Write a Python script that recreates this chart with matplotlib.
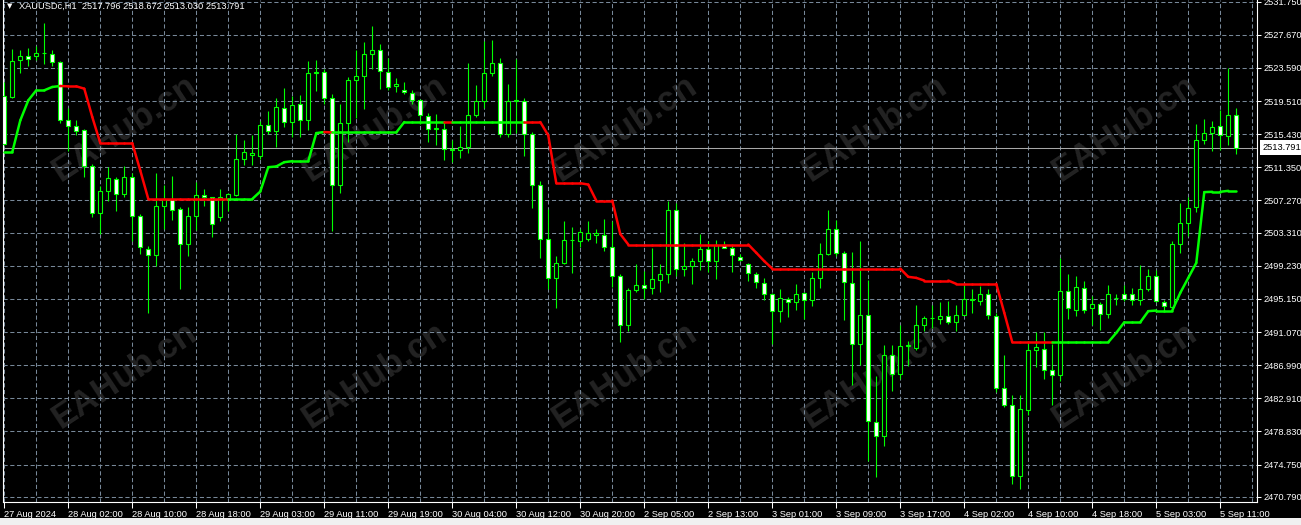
import numpy as np
import matplotlib.pyplot as plt
from matplotlib.collections import LineCollection
from matplotlib.patches import Rectangle

W, H = 1301, 525
SYMBOL = "XAUUSDc,H1"

# --- H1 candles, 27 Aug 18:00 .. 5 Sep 13:00 ---
opens = [2520.10, 2520.01, 2524.54, 2525.12, 2525.04, 2525.41, 2525.28, 2524.38, 2517.13, 2516.40,
         2515.90, 2511.54, 2505.70, 2508.41, 2509.89, 2508.08, 2510.22, 2505.36, 2501.33, 2500.51,
         2506.60, 2507.42, 2506.23, 2501.91, 2505.36, 2507.96, 2507.67, 2505.20, 2507.46, 2508.00,
         2512.40, 2512.90, 2512.73, 2516.60, 2515.82, 2518.66, 2516.97, 2519.15, 2517.21, 2523.02,
         2523.10, 2519.93, 2509.23, 2516.85, 2522.16, 2522.57, 2525.37, 2525.86, 2523.10, 2521.33,
         2520.92, 2520.55, 2519.69, 2517.67, 2516.10, 2516.10, 2513.47, 2513.43, 2513.84, 2517.83,
         2519.48, 2523.02, 2524.25, 2515.41, 2519.56, 2519.52, 2515.49, 2509.23, 2502.53, 2497.71,
         2499.52, 2502.40, 2502.24, 2502.48, 2503.06, 2503.02, 2501.50, 2497.92, 2491.94, 2496.20,
         2496.81, 2496.44, 2497.43, 2498.16, 2506.15, 2498.78, 2499.15, 2499.80, 2501.24, 2499.88,
         2501.73, 2501.44, 2500.37, 2499.47, 2498.24, 2497.14, 2495.70, 2493.62, 2495.17, 2494.76,
         2495.91, 2494.97, 2497.75, 2500.74, 2503.80, 2500.82, 2497.13, 2489.65, 2493.23, 2479.96,
         2478.24, 2488.30, 2485.92, 2489.41, 2489.12, 2491.91, 2492.82, 2492.73, 2493.10, 2492.28,
         2493.23, 2495.00, 2494.95, 2495.81, 2493.10, 2484.19, 2482.14, 2473.31, 2481.52, 2488.91,
         2489.04, 2486.45, 2485.75, 2496.18, 2493.84, 2496.51, 2493.97, 2494.54, 2493.35, 2495.28,
         2495.77, 2495.77, 2495.07, 2496.31, 2498.03, 2494.79, 2494.13, 2501.97, 2504.50, 2506.45,
         2514.76, 2515.58, 2516.44, 2515.25, 2517.796]
highs = [2521.87, 2525.98, 2525.78, 2526.10, 2526.35, 2529.07, 2525.78, 2524.46, 2518.70, 2517.13,
         2516.10, 2511.80, 2509.11, 2511.37, 2510.14, 2511.46, 2510.63, 2505.60, 2501.66, 2510.71,
         2509.23, 2510.34, 2506.44, 2506.44, 2509.52, 2508.70, 2507.75, 2508.70, 2508.16, 2515.41,
         2514.75, 2515.28, 2517.05, 2518.25, 2519.93, 2521.17, 2520.18, 2520.22, 2524.42, 2524.54,
         2523.43, 2520.34, 2519.19, 2522.48, 2525.78, 2526.80, 2528.74, 2526.52, 2524.87, 2522.40,
         2521.91, 2520.84, 2519.81, 2518.04, 2517.96, 2516.80, 2514.67, 2516.40, 2524.21, 2521.46,
         2526.93, 2527.01, 2524.87, 2521.66, 2524.75, 2519.93, 2515.69, 2509.73, 2506.23, 2500.47,
         2504.79, 2503.97, 2503.76, 2504.79, 2503.80, 2505.00, 2504.79, 2498.24, 2496.44, 2499.51,
         2498.57, 2501.36, 2499.47, 2507.26, 2506.97, 2502.05, 2500.13, 2503.16, 2502.34, 2502.46,
         2502.34, 2501.73, 2500.70, 2499.60, 2498.49, 2497.67, 2495.91, 2496.32, 2495.38, 2496.93,
         2496.00, 2498.49, 2502.05, 2506.15, 2504.92, 2501.03, 2500.90, 2502.26, 2497.54, 2485.63,
         2489.45, 2489.53, 2491.99, 2489.94, 2494.38, 2493.02, 2494.38, 2494.75, 2494.95, 2494.46,
         2496.84, 2496.43, 2496.72, 2496.43, 2493.43, 2488.22, 2483.29, 2483.37, 2489.86, 2491.09,
         2491.09, 2489.61, 2500.21, 2498.24, 2497.95, 2497.33, 2495.49, 2494.79, 2496.92, 2495.77,
         2496.84, 2496.51, 2499.30, 2498.89, 2498.77, 2495.07, 2502.34, 2506.91, 2507.73, 2516.72,
         2517.34, 2517.05, 2518.44, 2523.59, 2518.672]
lows = [2514.15, 2519.93, 2522.98, 2523.80, 2524.54, 2524.13, 2523.84, 2516.80, 2513.35, 2515.28,
        2510.14, 2505.28, 2503.14, 2507.26, 2505.94, 2507.67, 2502.32, 2500.67, 2493.47, 2499.23,
        2503.76, 2504.87, 2496.35, 2500.47, 2503.64, 2506.64, 2502.73, 2504.79, 2506.02, 2507.88,
        2511.58, 2511.58, 2512.40, 2515.49, 2513.84, 2516.31, 2515.08, 2515.08, 2515.90, 2520.76,
        2519.19, 2503.47, 2508.16, 2514.46, 2517.46, 2518.57, 2523.51, 2521.04, 2520.84, 2520.63,
        2520.43, 2519.19, 2516.64, 2514.46, 2514.05, 2512.28, 2511.99, 2512.53, 2513.10, 2517.55,
        2518.70, 2522.57, 2515.08, 2515.08, 2515.57, 2512.81, 2506.35, 2500.18, 2496.35, 2494.09,
        2499.44, 2498.29, 2501.58, 2502.32, 2502.00, 2501.08, 2496.56, 2489.89, 2491.20, 2496.03,
        2495.09, 2495.79, 2496.03, 2497.14, 2497.96, 2497.96, 2497.02, 2498.65, 2498.49, 2497.63,
        2501.36, 2498.49, 2499.80, 2497.34, 2496.44, 2494.97, 2489.64, 2492.35, 2492.92, 2493.82,
        2492.63, 2494.27, 2496.52, 2500.54, 2500.42, 2492.51, 2484.60, 2486.98, 2475.24, 2473.19,
        2477.01, 2483.86, 2485.34, 2486.86, 2488.91, 2491.25, 2491.58, 2492.08, 2492.08, 2491.17,
        2493.14, 2493.43, 2494.38, 2492.73, 2483.70, 2481.81, 2472.37, 2471.79, 2480.91, 2486.74,
        2485.34, 2482.14, 2485.00, 2492.73, 2493.02, 2493.43, 2491.99, 2491.38, 2492.82, 2494.38,
        2494.95, 2494.46, 2494.46, 2496.18, 2494.79, 2493.72, 2493.72, 2500.86, 2502.90, 2505.89,
        2514.27, 2513.37, 2513.53, 2514.07, 2513.030]
closes = [2514.25, 2524.46, 2525.12, 2524.67, 2525.49, 2525.45, 2524.38, 2517.13, 2516.40, 2515.86,
          2511.54, 2505.70, 2508.41, 2510.06, 2508.08, 2510.22, 2505.36, 2501.58, 2500.59, 2506.60,
          2507.42, 2506.11, 2501.91, 2505.36, 2507.96, 2507.67, 2504.38, 2507.67, 2508.08, 2512.40,
          2513.23, 2513.15, 2516.60, 2515.82, 2518.78, 2516.89, 2519.03, 2517.21, 2523.02, 2523.06,
          2519.93, 2509.23, 2516.85, 2522.16, 2522.57, 2525.28, 2525.86, 2523.18, 2521.25, 2521.58,
          2520.59, 2519.69, 2517.75, 2516.10, 2516.14, 2513.64, 2513.55, 2513.88, 2517.83, 2519.48,
          2523.02, 2524.25, 2515.41, 2519.52, 2519.60, 2515.49, 2509.23, 2502.53, 2497.71, 2499.52,
          2502.40, 2502.44, 2503.39, 2503.31, 2503.31, 2501.58, 2497.98, 2491.94, 2496.20, 2496.81,
          2496.44, 2497.55, 2498.16, 2506.15, 2498.78, 2499.15, 2499.80, 2501.24, 2499.88, 2501.73,
          2501.44, 2500.50, 2500.00, 2498.33, 2497.22, 2495.70, 2493.62, 2495.21, 2494.76, 2495.79,
          2494.97, 2497.75, 2500.74, 2503.80, 2500.82, 2497.22, 2489.65, 2493.23, 2480.09, 2478.24,
          2488.30, 2485.92, 2489.41, 2489.45, 2491.99, 2492.82, 2492.86, 2493.10, 2492.32, 2493.23,
          2495.20, 2495.16, 2495.81, 2493.14, 2484.19, 2482.14, 2473.31, 2481.61, 2488.91, 2489.20,
          2486.45, 2485.75, 2496.18, 2494.05, 2496.59, 2493.84, 2494.54, 2493.35, 2495.77, 2495.32,
          2495.20, 2495.07, 2496.31, 2498.03, 2494.87, 2494.25, 2501.97, 2504.50, 2506.35, 2514.76,
          2515.62, 2516.32, 2515.29, 2517.83, 2513.791]

# trailing line of the indicator and its trend (1 = up / green, 0 = down / red)
trail = [2513.23, 2513.23, 2517.13, 2519.60, 2520.84, 2520.84, 2521.25, 2521.37, 2521.33, 2521.33,
         2521.04, 2517.55, 2514.34, 2514.34, 2514.34, 2514.34, 2514.34, 2510.96, 2507.46, 2507.46,
         2507.46, 2507.46, 2507.46, 2507.46, 2507.46, 2507.46, 2507.46, 2507.46, 2507.46, 2507.46,
         2507.46, 2507.46, 2508.37, 2511.37, 2511.46, 2511.99, 2512.11, 2512.11, 2512.11, 2515.57,
         2515.70, 2515.65, 2515.65, 2515.65, 2515.65, 2515.65, 2515.65, 2515.65, 2515.65, 2515.65,
         2516.93, 2516.93, 2516.93, 2516.93, 2516.93, 2516.93, 2516.93, 2516.93, 2516.93, 2516.93,
         2516.93, 2516.93, 2516.93, 2516.93, 2516.93, 2516.93, 2516.93, 2516.93, 2515.28, 2509.40,
         2509.40, 2509.40, 2509.40, 2509.23, 2507.26, 2507.26, 2507.26, 2503.14, 2501.85, 2501.85,
         2501.85, 2501.85, 2501.85, 2501.85, 2501.85, 2501.85, 2501.85, 2501.85, 2501.85, 2501.85,
         2501.85, 2501.85, 2501.85, 2501.85, 2500.83, 2499.80, 2498.88, 2498.88, 2498.88, 2498.88,
         2498.88, 2498.88, 2498.88, 2498.88, 2498.88, 2498.88, 2498.88, 2498.88, 2498.88, 2498.88,
         2498.88, 2498.88, 2498.88, 2497.87, 2497.74, 2497.41, 2497.41, 2497.41, 2497.41, 2497.00,
         2497.00, 2497.00, 2497.00, 2497.00, 2497.00, 2493.43, 2489.82, 2489.82, 2489.82, 2489.82,
         2489.82, 2489.82, 2489.82, 2489.82, 2489.82, 2489.82, 2489.82, 2489.82, 2489.82, 2490.97,
         2492.28, 2492.28, 2492.28, 2493.64, 2493.72, 2493.72, 2493.72, 2495.90, 2497.74, 2499.59,
         2508.30, 2508.34, 2508.34, 2508.46, 2508.46]
trend = [1] * 7 + [0] * 21 + [1] * 12 + [0] + [1] * 14 + [0] + [1] * 9 + [0] * 66 + [1] * 24

price_ticks = [2531.75, 2527.67, 2523.59, 2519.51, 2515.43, 2511.35, 2507.27, 2503.31,
               2499.23, 2495.15, 2491.07, 2486.99, 2482.91, 2478.83, 2474.75, 2470.79]
time_labels = ["27 Aug 2024", "28 Aug 02:00", "28 Aug 10:00", "28 Aug 18:00", "29 Aug 03:00",
               "29 Aug 11:00", "29 Aug 19:00", "30 Aug 04:00", "30 Aug 12:00", "30 Aug 20:00",
               "2 Sep 05:00", "2 Sep 13:00", "3 Sep 01:00", "3 Sep 09:00", "3 Sep 17:00",
               "4 Sep 02:00", "4 Sep 10:00", "4 Sep 18:00", "5 Sep 03:00", "5 Sep 11:00"]

LIME = "#00ff00"
GRID = "#778899"
FONT = ["Liberation Sans", "DejaVu Sans"]
plt.rcParams["font.family"] = FONT

o = np.array(opens); h = np.array(highs); l = np.array(lows); c = np.array(closes)
n = len(o)
x = np.arange(n)

fig = plt.figure(figsize=(W / 100, H / 100), dpi=100, facecolor="black")
# chart frame: x 3..1257 px, y 0..501.6 px
ax = fig.add_axes([3 / W, (H - 501.6) / H, 1254 / W, 501.6 / H], facecolor="black")
ax.set_xlim(-0.16, 156.59)
ax.set_ylim(2470.19, 2531.96)

# watermark
for wy in (128, 375):
    for wx in (125, 375, 625, 875, 1125):
        ax.text((wx - 3) / 1254, 1 - wy / 501.6, "EAHub.cn", transform=ax.transAxes,
                rotation=33.5, ha="center", va="center", fontsize=25, fontweight="bold",
                color="#232323", zorder=0.2)

# grid
ax.set_yticks(price_ticks)
ax.set_yticklabels([f"{p:.3f}" for p in price_ticks])
ax.set_xticks(range(0, 153, 8))
ax.set_xticklabels(time_labels, ha="left")
ax.set_xticks(range(0, 157, 4), minor=True)
ax.grid(True, which="both", color=GRID, lw=0.75, linestyle=(0, (4, 2.5)), zorder=1)
ax.set_axisbelow(True)

# bid line
ax.axhline(c[-1], color="#a8a8a8", lw=0.75, zorder=2)

# candles
ax.vlines(x, l, h, color=LIME, lw=0.8, zorder=3)
bottoms = np.minimum(o, c)
heights = np.maximum(np.abs(c - o), 0.01)
faces = np.where(c < o, "white", "black")
ax.bar(x, heights, width=0.5, bottom=bottoms, color=faces, edgecolor=LIME,
       linewidth=0.8, zorder=4)

# indicator line
pts = np.column_stack([x, trail])
segs = np.stack([pts[:-1], pts[1:]], axis=1)
cols = ["#00ff00" if t else "#ff0000" for t in trend[:-1]]
ax.add_collection(LineCollection(segs, colors=cols, linewidths=1.8,
                                 capstyle="round", zorder=5))

# axes styling
for side in ("left", "bottom", "right"):
    ax.spines[side].set_color("white")
    ax.spines[side].set_linewidth(0.8)
ax.spines["top"].set_visible(False)
ax.yaxis.tick_right()
ax.tick_params(axis="y", colors="white", labelsize=6.7, length=3, width=0.75, pad=2)
ax.tick_params(axis="x", which="major", colors="white", labelsize=6.7, length=4,
               width=0.75, pad=2)
ax.tick_params(axis="x", which="minor", length=0)

# current price tag
ax.annotate(f"{c[-1]:.3f}", xy=(1.0045, c[-1]), xycoords=("axes fraction", "data"),
            ha="left", va="center", fontsize=6.7, color="black",
            bbox=dict(boxstyle="square,pad=0.3", fc="white", ec="none"),
            annotation_clip=False, zorder=6)

# header
fig.text(10 / W, 1 - 6 / H, "\u25bc", color="white", fontsize=5, ha="center", va="center",
         family=["DejaVu Sans"])
fig.text(19 / W, 1 - 6.5 / H,
         f"{SYMBOL}  {o[-1]:.3f} {h[-1]:.3f} {l[-1]:.3f} {c[-1]:.3f}",
         color="white", fontsize=6.7, ha="left", va="center")

# light strip at the bottom of the window
fig.patches.append(Rectangle((0, 0), 1, 7 / H, transform=fig.transFigure,
                             facecolor="#f0f0f0", edgecolor="none", zorder=-1))

fig.savefig("out.png", dpi=100, facecolor="black")
